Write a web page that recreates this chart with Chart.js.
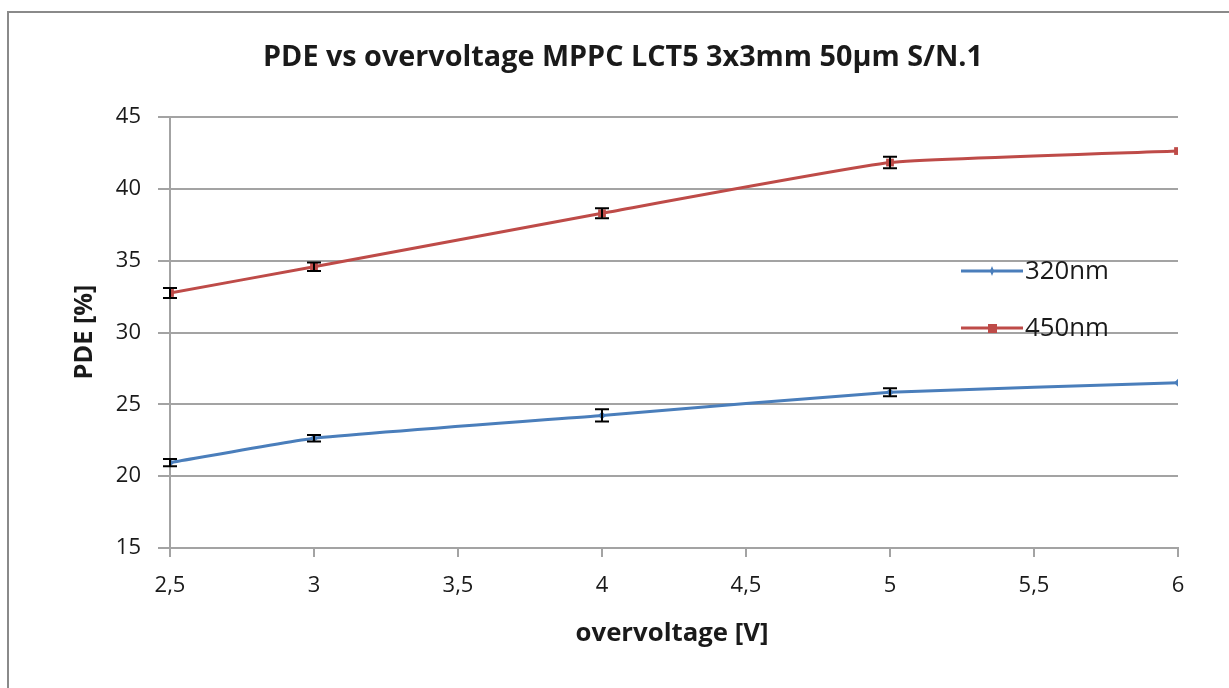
<!DOCTYPE html>
<html>
<head>
<meta charset="utf-8">
<script src="https://cdn.jsdelivr.net/npm/chart.js@4.4.1/dist/chart.umd.min.js"></script>
<style>
  html, body { margin: 0; padding: 0; background: #fff; }
  #wrap { width: 1229px; height: 688px; position: relative; }
</style>
</head>
<body>
<div id="wrap"><canvas id="c" width="1229" height="688"></canvas></div>
<script>
// ---- data ----
const overvoltage = [2.5, 3, 4, 5, 6];
const pde320 = [20.94, 22.64, 24.23, 25.84, 26.51];
const err320 = [0.25, 0.23, 0.43, 0.28, 0];
const pde450 = [32.75, 34.58, 38.3, 41.83, 42.63];
const err450 = [0.35, 0.3, 0.35, 0.4, 0];
const seriesNames = ['320nm', '450nm'];
const titleText = 'PDE vs overvoltage MPPC LCT5 3x3mm 50µm S/N.1';
const xTitle = 'overvoltage [V]';
const yTitle = 'PDE [%]';

const BLUE = '#4a7ebb';
const RED = '#be4b48';
const GRID = '#a3a3a3';
const TXT = '#1a1a1a';
const FONT = '"Open Sans", "DejaVu Sans", sans-serif';

function toPts(xs, ys) { return xs.map((x, i) => ({ x: x, y: ys[i] })); }

function fitFont(ctx, text, weight, targetW, base) {
  ctx.font = weight + ' ' + base + 'px ' + FONT;
  const w = ctx.measureText(text).width;
  return base * targetW / w;
}

const decor = {
  id: 'decor',
  beforeDraw(chart) {
    const ctx = chart.ctx;
    ctx.save();
    ctx.fillStyle = '#fff';
    ctx.fillRect(0, 0, chart.width, chart.height);
    ctx.strokeStyle = '#8a8a8a';
    ctx.lineWidth = 2;
    ctx.beginPath();
    ctx.moveTo(8, 700);
    ctx.lineTo(8, 12);
    ctx.lineTo(1240, 12);
    ctx.stroke();
    ctx.restore();
  },
  afterDatasetsDraw(chart) {
    const ctx = chart.ctx;
    const xs = chart.scales.x, ys = chart.scales.y;
    ctx.save();
    ctx.strokeStyle = '#000';
    ctx.lineWidth = 2;
    const sets = [[pde320, err320], [pde450, err450]];
    sets.forEach(([vals, errs]) => {
      vals.forEach((v, i) => {
        if (!errs[i]) return;
        const px = xs.getPixelForValue(overvoltage[i]);
        const top = ys.getPixelForValue(v + errs[i]);
        const bot = ys.getPixelForValue(v - errs[i]);
        ctx.beginPath();
        ctx.moveTo(px, top); ctx.lineTo(px, bot);
        ctx.moveTo(px - 7, top); ctx.lineTo(px + 7, top);
        ctx.moveTo(px - 7, bot); ctx.lineTo(px + 7, bot);
        ctx.stroke();
      });
    });
    ctx.restore();
  },
  afterDraw(chart) {
    const ctx = chart.ctx;
    const area = chart.chartArea;
    ctx.save();
    ctx.fillStyle = TXT;
    ctx.textAlign = 'center';
    ctx.textBaseline = 'middle';
    let fs = fitFont(ctx, titleText, 'bold', 720, 22);
    ctx.font = 'bold ' + fs.toFixed(2) + 'px ' + FONT;
    ctx.fillText(titleText, 623, 58);
    fs = fitFont(ctx, xTitle, 'bold', 193, 20);
    ctx.font = 'bold ' + fs.toFixed(2) + 'px ' + FONT;
    ctx.fillText(xTitle, (area.left + area.right) / 2 - 2, 634);
    fs = fitFont(ctx, yTitle, 'bold', 95, 20);
    ctx.font = 'bold ' + fs.toFixed(2) + 'px ' + FONT;
    ctx.save();
    ctx.translate(85, 332);
    ctx.rotate(-Math.PI / 2);
    ctx.fillText(yTitle, 0, 0);
    ctx.restore();
    const items = [[seriesNames[0], BLUE, 271, 'diamond'], [seriesNames[1], RED, 328, 'rect']];
    ctx.textAlign = 'left';
    items.forEach(([name, col, y, shape]) => {
      ctx.strokeStyle = col;
      ctx.lineWidth = 3;
      ctx.beginPath();
      ctx.moveTo(961, y); ctx.lineTo(1023, y);
      ctx.stroke();
      ctx.fillStyle = col;
      if (shape === 'rect') {
        ctx.fillRect(988, y - 4, 9, 9);
      } else {
        ctx.beginPath();
        ctx.moveTo(992, y - 5); ctx.lineTo(994, y); ctx.lineTo(992, y + 5); ctx.lineTo(990, y);
        ctx.closePath(); ctx.fill();
      }
      ctx.fillStyle = TXT;
      const lf = fitFont(ctx, seriesNames[0], 'normal', 84, 20);
      ctx.font = lf.toFixed(2) + 'px ' + FONT;
      ctx.fillText(name, 1025, y + 1);
    });
    ctx.restore();
  }
};

new Chart(document.getElementById('c'), {
  type: 'line',
  data: {
    datasets: [
      {
        label: seriesNames[0],
        data: toPts(overvoltage, pde320),
        borderColor: BLUE, backgroundColor: BLUE,
        borderWidth: 3, tension: 0.12,
        pointStyle: 'rectRot', pointRadius: 4, pointBorderWidth: 0
      },
      {
        label: seriesNames[1],
        data: toPts(overvoltage, pde450),
        borderColor: RED, backgroundColor: RED,
        borderWidth: 3, tension: 0.12,
        pointStyle: 'rect', pointRadius: 5.5, pointBorderWidth: 0
      }
    ]
  },
  options: {
    responsive: false,
    animation: false,
    events: [],
    layout: { padding: { left: 0, top: 117, right: 51, bottom: 0 } },
    plugins: { legend: { display: false }, title: { display: false }, tooltip: { enabled: false } },
    scales: {
      x: {
        type: 'linear', min: 2.5, max: 6,
        afterFit(s) { s.height = 140; },
        border: { color: GRID, width: 2 },
        grid: { display: true, drawOnChartArea: false, drawTicks: true, tickLength: 9, color: GRID, lineWidth: 2 },
        ticks: {
          stepSize: 0.5, padding: 16, color: TXT,
          font: { family: FONT, size: 22 },
          callback: v => String(v).replace('.', ',')
        }
      },
      y: {
        type: 'linear', min: 15, max: 45,
        afterFit(s) { s.width = 170; },
        border: { color: GRID, width: 2 },
        grid: { color: GRID, lineWidth: 2, tickLength: 12 },
        ticks: {
          stepSize: 5, padding: 17, color: TXT,
          font: { family: FONT, size: 22 }
        }
      }
    }
  },
  plugins: [decor]
});
</script>
</body>
</html>
